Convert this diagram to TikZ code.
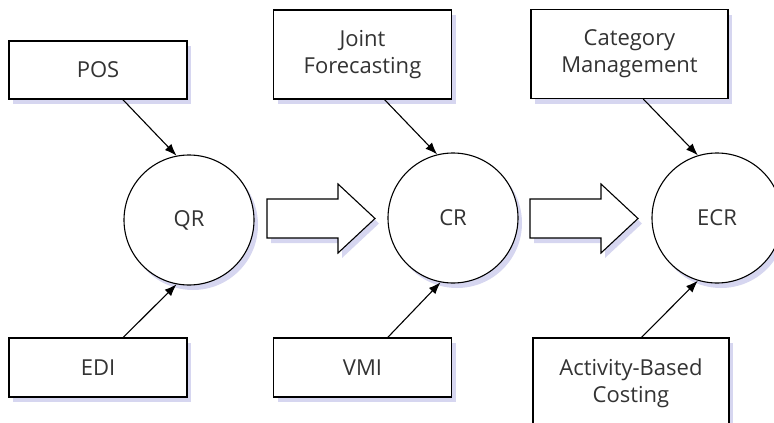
\documentclass[tikz,border=0pt]{standalone}
\usepackage{fontspec}
\setmainfont{Open Sans}
\usetikzlibrary{shadows,arrows.meta}

\begin{document}
\begin{tikzpicture}[x=1pt,y=-1pt,>={Latex[length=12pt,width=9pt]},line width=1.1pt]
    \tikzstyle{every node}=[font=\fontsize{22}{27}\selectfont,text=black!80]
    \tikzstyle{soft shadow}=[drop shadow={shadow xshift=4pt,shadow yshift=-5pt,fill=blue!45!gray,opacity=.22}]
    \tikzstyle{box}=[rectangle,draw=black,fill=white,soft shadow,align=center,inner sep=0pt,minimum width=178pt]
    \tikzstyle{stage}=[circle,draw=black,fill=white,soft shadow,minimum size=130pt,inner sep=0pt]
    \tikzstyle{big arrow}=[draw=black,fill=white,soft shadow,line join=miter]
    \tikzstyle{feed}=[->,draw=black]

    \useasboundingbox (0,0) rectangle (774,423);

    % Draw the practice boxes
    \node[box, minimum height=58pt] (POS) at (98,70) {POS};
    \node[box, minimum height=89pt] (JF) at (362.5,54.5) {Joint\\Forecasting};
    \node[box, minimum height=89pt, minimum width=197pt] (CM) at (629.5,54) {Category\\Management};
    \node[box, minimum height=59pt] (EDI) at (98,367.5) {EDI};
    \node[box, minimum height=59pt] (VMI) at (362.5,367.5) {VMI};
    \node[box, minimum height=90pt, minimum width=196pt] (ABC) at (631,383) {Activity-Based\\Costing};

    % Draw the stage nodes
    \node[stage] (QR) at (189,220) {QR};
    \node[stage] (CR) at (453,218) {CR};
    \node[stage] (ECR) at (717,218) {ECR};

    % Draw the big arrows between the stages
    \foreach \x in {267,530}
        \draw[big arrow] (\x,199) -- ++(71,0) -- ++(0,-15) -- ++(37,34.5)
            -- ++(-37,34.5) -- ++(0,-15) -- ++(-71,0) -- cycle;

    % Draw the connectors
    \foreach \src/\a/\dest/\b in {POS/-50/QR/101, EDI/50/QR/259, JF/-64/CR/104,
        VMI/50/CR/259, CM/-73/ECR/107, ABC/77/ECR/253}
        \path (\src.\a) edge[feed] (\dest.\b);
\end{tikzpicture}
\end{document}
